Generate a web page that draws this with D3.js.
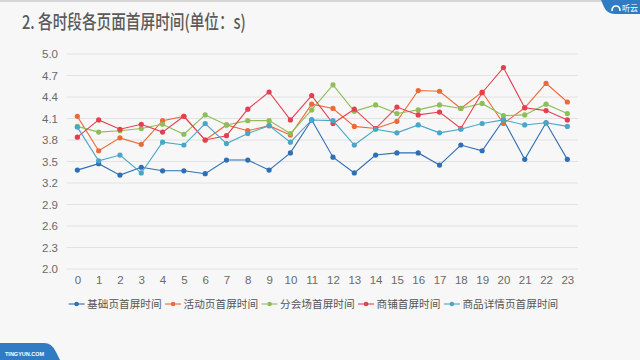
<!DOCTYPE html>
<html><head><meta charset="utf-8">
<script src="https://cdn.jsdelivr.net/npm/d3@7/dist/d3.min.js"></script>
<style>html,body{margin:0;padding:0;background:#f7f7f7;}svg{display:block;}</style>
</head><body><svg id="c" width="640" height="360"></svg>
<script>
const hours = ["0","1","2","3","4","5","6","7","8","9","10","11","12","13","14","15","16","17","18","19","20","21","22","23"];
const yTicks = [2.0,2.3,2.6,2.9,3.2,3.5,3.8,4.1,4.4,4.7,5.0];
const seriesNames = ["基础页首屏时间","活动页首屏时间","分会场首屏时间","商铺首屏时间","商品详情页首屏时间"];
const seriesColors = ["#2f6fb3","#ec6a3a","#8fbd5a","#e2404f","#4aa6c9"];
const basePage   = [3.38,3.47,3.31,3.42,3.37,3.37,3.33,3.52,3.52,3.38,3.62,4.08,3.56,3.34,3.59,3.62,3.62,3.45,3.73,3.65,4.08,3.53,4.04,3.53];
const activePage = [4.13,3.65,3.83,3.74,4.07,4.13,3.80,4.01,3.93,4.00,3.87,4.30,4.24,3.99,3.96,4.06,4.49,4.48,4.24,4.47,4.03,4.25,4.59,4.33];
const venuePage  = [3.99,3.91,3.93,3.96,4.02,3.88,4.15,4.01,4.07,4.07,3.89,4.22,4.57,4.20,4.29,4.17,4.22,4.29,4.24,4.31,4.14,4.15,4.30,4.17];
const shopPage   = [3.84,4.08,3.95,4.02,3.91,4.13,3.80,3.86,4.23,4.47,4.08,4.42,4.03,4.23,3.96,4.26,4.15,4.19,3.96,4.46,4.81,4.25,4.21,4.08];
const detailPage = [3.98,3.51,3.59,3.34,3.77,3.73,4.03,3.75,3.89,4.00,3.77,4.08,4.07,3.73,3.95,3.90,4.01,3.90,3.95,4.03,4.08,4.01,4.04,3.99];
const allSeries = [basePage, activePage, venuePage, shopPage, detailPage];

const svg = d3.select("#c");
svg.append("rect").attr("width",640).attr("height",360).attr("fill","#f7f7f7");
svg.append("rect").attr("width",640).attr("height",2).attr("fill","#d6d6d6");

// title
const title = svg.append("text").attr("x",22).attr("y",29)
  .attr("font-family","'Noto Sans CJK SC'").attr("font-size",19).attr("font-weight",500).attr("fill","#5a5a5a")
  .text("2. 各时段各页面首屏时间(单位：s)");
const tw = title.node().getComputedTextLength();
title.attr("transform",`translate(22,0) scale(${224/tw},1) translate(-22,0)`);

// logos
svg.append("path").attr("d","M601,0 L640,0 L640,14 L615,14 Q607,14 604,7 Z").attr("fill","#2f7cc4");
svg.append("path").attr("d","M612,11 Q612,6 616,6 Q620,6 620,11").attr("fill","none").attr("stroke","#fff").attr("stroke-width",1.6);
svg.append("text").attr("x",622).attr("y",11).attr("font-family","'Noto Sans CJK SC'").attr("font-size",8).attr("fill","#fff").text("听云");
svg.append("path").attr("d","M0,343 L44,343 Q52,343 56,352 L60,360 L0,360 Z").attr("fill","#2f7cc4");
svg.append("text").attr("x",5).attr("y",356).attr("font-family","'Liberation Sans'").attr("font-weight","bold").attr("font-size",5.5).attr("fill","#fff").text("TINGYUN.COM");

// scales
const x = d3.scalePoint().domain(hours).range([66.7,578]).padding(0.5);
const y = d3.scaleLinear().domain([2.0,5.0]).range([269,54]);

// grid
svg.append("g").selectAll("line").data(yTicks).join("line")
  .attr("x1",66.7).attr("x2",578).attr("y1",d=>y(d)).attr("y2",d=>y(d))
  .attr("stroke","#e2e2e2").attr("stroke-width",1);

// y axis
const yAxis = svg.append("g").attr("transform","translate(58,0)")
  .call(d3.axisLeft(y).tickValues(yTicks).tickFormat(d3.format(".1f")).tickSize(0).tickPadding(0));
yAxis.select(".domain").remove();
yAxis.selectAll("text").attr("font-family","'Liberation Sans'").attr("font-size",11.5).attr("fill","#6a6a6a");

// x axis
const xAxis = svg.append("g").attr("transform","translate(0,276)")
  .call(d3.axisBottom(x).tickSize(0).tickPadding(0));
xAxis.select(".domain").remove();
xAxis.selectAll("text").attr("font-family","'Liberation Sans'").attr("font-size",11.5).attr("fill","#6a6a6a");

// series
const line = d3.line().x((d,i)=>x(hours[i])).y(d=>y(d));
allSeries.forEach((s,k)=>{
  const g = svg.append("g");
  g.append("path").attr("d",line(s)).attr("fill","none").attr("stroke",seriesColors[k]).attr("stroke-width",1.1);
  g.selectAll("circle").data(s).join("circle")
    .attr("cx",(d,i)=>x(hours[i])).attr("cy",d=>y(d)).attr("r",2.6).attr("fill",seriesColors[k]);
});

// legend
const lg = svg.append("g");
let lx = 68.6;
const ly = 304;
seriesNames.forEach((n,k)=>{
  lg.append("line").attr("x1",lx).attr("x2",lx+16).attr("y1",ly).attr("y2",ly).attr("stroke",seriesColors[k]).attr("stroke-width",1.1);
  lg.append("circle").attr("cx",lx+8).attr("cy",ly).attr("r",2.3).attr("fill",seriesColors[k]);
  const t = lg.append("text").attr("x",lx+18.5).attr("y",ly+4).attr("font-family","'Noto Sans CJK SC'").attr("font-size",10.65).attr("fill","#555").text(n);
  lx = lx + 18.5 + t.node().getComputedTextLength() + 3.5;
});
</script></body></html>
